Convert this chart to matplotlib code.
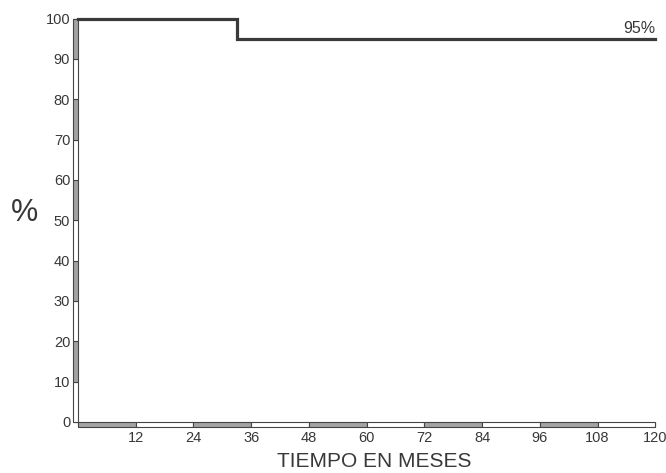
import matplotlib
matplotlib.use("Agg")
import matplotlib.pyplot as plt

plt.rcParams['font.family'] = ['Liberation Sans', 'DejaVu Sans']

# survival curve (Kaplan-Meier style)
meses = [0, 33, 120]
supervivencia = [100, 95, 95]

x_ticks = [12, 24, 36, 48, 60, 72, 84, 96, 108, 120]
y_ticks = [0, 10, 20, 30, 40, 50, 60, 70, 80, 90, 100]

txt_color = '#383838'
line_color = '#3a3a3a'
band_gray = '#a3a3a3'

fig = plt.figure(figsize=(6.66, 4.73), dpi=100)
ax = fig.add_axes([0.1096, 0.0973, 0.8757, 0.8661])

x0, y0 = -1.04, -1.24
ax.set_xlim(x0, 120.2)
ax.set_ylim(y0, 100.3)

for s in ax.spines.values():
    s.set_visible(False)

# alternating bands along the axes
x_edges = list(range(0, 120, 12))
x_cols = [band_gray if i % 2 == 0 else 'white' for i in range(len(x_edges))]
ax.bar(x_edges, [-y0] * len(x_edges), width=12, bottom=y0, align='edge',
       color=x_cols, edgecolor='#444444', linewidth=0.8, clip_on=False, zorder=2)

y_edges = list(range(0, 100, 10))
y_cols = ['white' if i % 2 == 0 else band_gray for i in range(len(y_edges))]
ax.barh(y_edges, [-x0] * len(y_edges), height=10, left=x0, align='edge',
        color=y_cols, edgecolor='#444444', linewidth=0.8, clip_on=False, zorder=2)

ax.step(meses, supervivencia, where='post', color=line_color, lw=2.3,
        solid_joinstyle='miter', zorder=3, clip_on=False)

ax.text(120, 95.7, '95%', ha='right', va='bottom', fontsize=11.5, color=txt_color)

ax.set_xticks(x_ticks)
ax.set_yticks(y_ticks)
ax.tick_params(axis='both', direction='in', length=3.6, width=0.8, color='black',
               labelsize=10.5, labelcolor=txt_color)
ax.tick_params(axis='x', pad=3)
ax.tick_params(axis='y', pad=2)

fig.text(374 / 666, 1 - 461.5 / 473, 'TIEMPO EN MESES', ha='center', va='center',
         fontsize=15, color=txt_color)
fig.text(24 / 666, 1 - 213 / 473, '%', ha='center', va='center',
         fontsize=22, color=txt_color)

fig.savefig('out.png', dpi=100)
